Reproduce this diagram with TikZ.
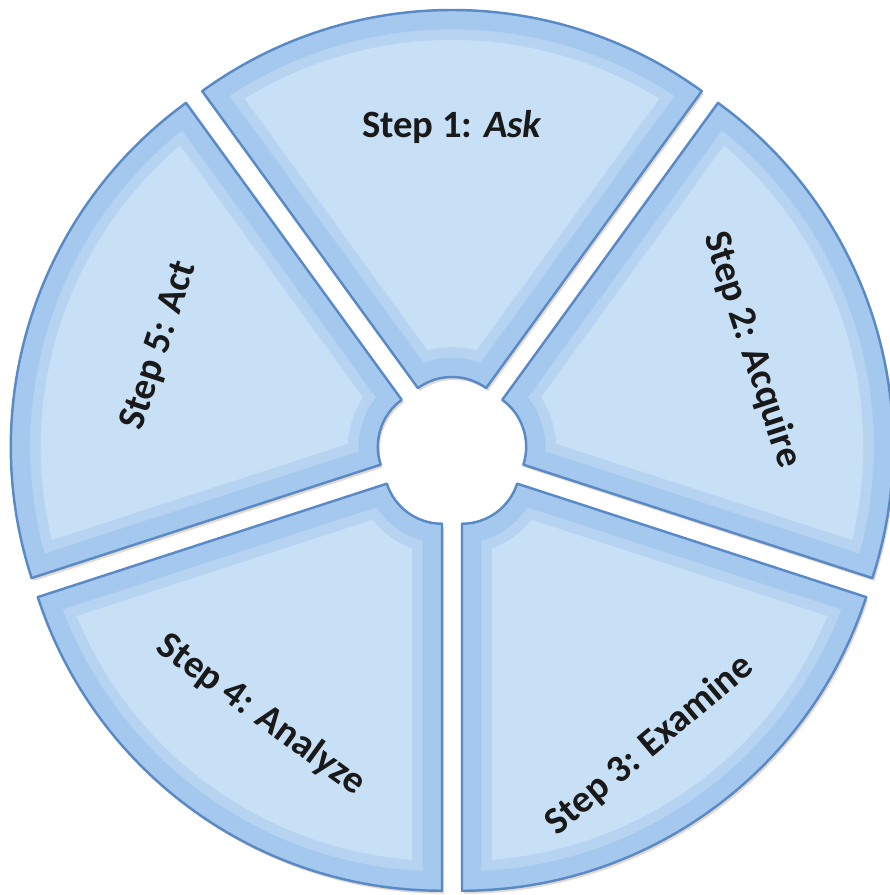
\documentclass[tikz,border=0pt]{standalone}
\usepackage{fontspec}
\setmainfont{Carlito}
\definecolor{bandblue}{HTML}{A4C8EE}
\definecolor{midblue}{HTML}{B6D4F2}
\definecolor{faceblue}{HTML}{C8E0F6}
\definecolor{edgeblue}{HTML}{5A8AC6}
\tikzset{
	wedge/.style={insert path={({#1-36}:0.58) -- ({#1-36}:4.25)
		arc[start angle=#1-36, end angle=#1+36, radius=4.25] -- ({#1+36}:0.58)
		arc[start angle=#1+36, end angle=#1-36, radius=0.58] -- cycle}},
	steplabel/.style={font=\bfseries\fontsize{11}{13}\selectfont, text=black!90}
}
\begin{document}
\begin{tikzpicture}[scale=1]
	\useasboundingbox (-4.52,-4.43) rectangle (4.38,4.52);
	% exploded ring of five steps
	\foreach \m in {90, 18, -54, -126, -198} {
			\begin{scope}[shift={(\m:0.17)}]
				\fill[black!60!orange, opacity=.18, shift={(0.02,-0.03)}, wedge=\m];
				\begin{scope}
					\clip[wedge=\m];
					\fill[faceblue] (0,0) circle (5);
					\draw[midblue, line width=17pt, wedge=\m];
					\draw[bandblue, line width=11pt, wedge=\m];
				\end{scope}
				\draw[edgeblue, line width=0.7pt, line join=round, wedge=\m];
			\end{scope}
		}
	\foreach \i/\a/\d/\r/\t in {1/90/3.25/0/{Step 1: \textit{Ask}}, 2/18.8/3.17/-72/{Step 2: Acquire},
			3/-56/3.54/40/{Step 3: Examine}, 4/234/3.25/-36/{Step 4: Analyze}, 5/160/3.11/72/{Step 5: Act}} {
			\node[steplabel, rotate=\r] (step\i) at (\a:\d) {\t};
		}
\end{tikzpicture}
\end{document}
